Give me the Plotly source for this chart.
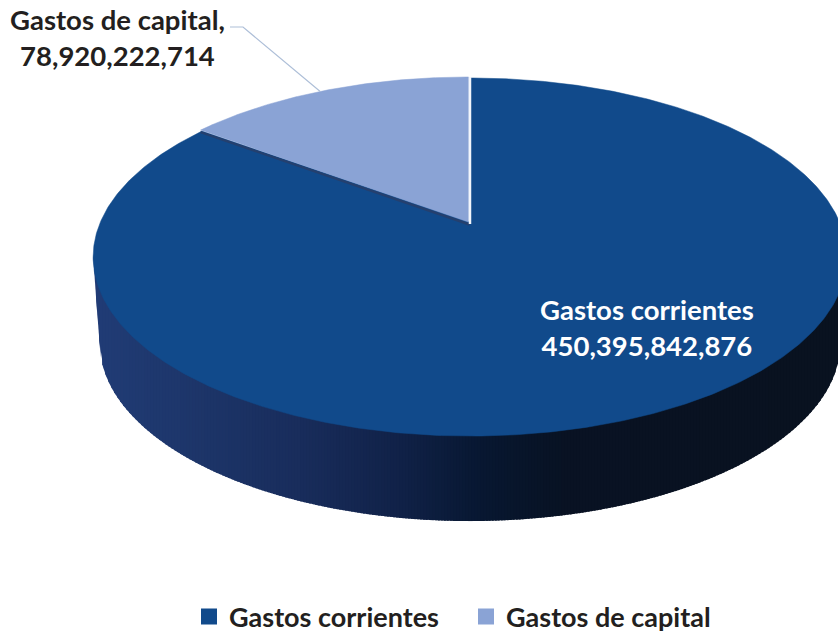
import numpy as np
import plotly.graph_objects as go

categories = ["Gastos corrientes", "Gastos de capital"]
values = [450395842876, 78920222714]
colors = ["#114A8B", "#8AA3D5"]
wall_stops_x = [93, 180, 300, 400, 480, 560, 838]
wall_stops_rgb = [(33, 60, 118), (30, 55, 108), (25, 45, 92), (17, 34, 72), (8, 24, 50), (9, 19, 36), (10, 18, 32)]

W, H = 838, 633
FONT = "Lato"
TXT = "#231F20"

# projection of the tilted pie disc onto the page (pixel axes)
CX, APEX_Y, K, A, C = 470.0, 222.0, 370.0, -130.4, 0.19


def project(theta, r=1.0, k=K, dy=0.0, cx=CX):
    u, v = -r * np.sin(theta), r * np.cos(theta)
    d = 1 + C * v
    return cx + k * u / d, (A * v + APEX_Y) / d + dy


share = values[1] / sum(values)
split = 2 * np.pi * share

fig = go.Figure()

# side wall, shaded strip by strip
t = np.linspace(0, 2 * np.pi, 1441)
tx, ty = project(t)
bx, by = project(t, k=364.0, dy=86.0)
lo_top = ty > 256
lo_bot = by > 342
o1 = np.argsort(tx[lo_top])
o2 = np.argsort(bx[lo_bot])
top_xs, top_ys = tx[lo_top][o1], ty[lo_top][o1]
bot_xs, bot_ys = bx[lo_bot][o2], by[lo_bot][o2]
left_i, right_i = np.argmin(tx), np.argmax(tx)
bot_xs = np.r_[tx[left_i], bot_xs, tx[right_i]]
bot_ys = np.r_[ty[left_i], bot_ys, ty[right_i]]

edges = np.arange(tx.min(), 842, 3.0)
for x0, x1 in zip(edges[:-1], edges[1:]):
    xm = (x0 + x1) / 2
    rgb = [int(np.interp(xm, wall_stops_x, [s[i] for s in wall_stops_rgb])) for i in range(3)]
    col = f"rgb({rgb[0]},{rgb[1]},{rgb[2]})"
    x2 = x1 + 1.5  # overlap the next strip so no seam shows
    y0t, y1t = np.interp(x0, top_xs, top_ys) - 3, np.interp(x2, top_xs, top_ys) - 3
    fig.add_trace(go.Scatter(
        x=[x0, x2, x2, x0, x0],
        y=[y0t, y1t, np.interp(x2, bot_xs, bot_ys), np.interp(x0, bot_xs, bot_ys), y0t],
        mode="none", fill="toself", fillcolor=col,
        showlegend=False, hoverinfo="skip"))

# top faces, from the values
th_big = np.linspace(split, 2 * np.pi, 600)
xb, yb = project(th_big, dy=1.0)
ax, ay = project(0.0, r=0.0)
fig.add_trace(go.Scatter(
    x=np.r_[ax, xb, ax], y=np.r_[ay, yb, ay], mode="lines", fill="toself",
    fillcolor=colors[0], line=dict(color=colors[0], width=0.5),
    name=categories[0], showlegend=False, hovertemplate=f"{categories[0]}: {values[0]:,}<extra></extra>"))

th_small = np.linspace(0, split, 160)
xs_, ys_ = project(th_small)
sx = np.r_[ax - 1.5, xs_ - 1.5, ax - 1.5]
sy = np.r_[ay, ys_, ay]
fig.add_trace(go.Scatter(
    x=[sx[-2], sx[-1] + 1], y=[sy[-2] + 2, sy[-1] + 2.5], mode="lines",
    line=dict(color="#24406F", width=2.5), showlegend=False, hoverinfo="skip"))
fig.add_trace(go.Scatter(
    x=sx, y=sy, mode="lines", fill="toself", fillcolor=colors[1],
    line=dict(color=colors[1], width=0.5),
    name=categories[1], showlegend=False, hovertemplate=f"{categories[1]}: {values[1]:,}<extra></extra>"))
fig.add_trace(go.Scatter(
    x=[ax, ax], y=[project(0.0)[1], ay + 2], mode="lines",
    line=dict(color="#F2F5FB", width=2.5), showlegend=False, hoverinfo="skip"))

# leader line
mx, my = project(split * 0.52)
fig.add_trace(go.Scatter(
    x=[230, 243, mx - 1.5], y=[27, 27, my], mode="lines",
    line=dict(color="#AEBFD8", width=1.2), showlegend=False, hoverinfo="skip"))

# legend keys
for name, col in zip(categories, colors):
    fig.add_trace(go.Scatter(
        x=[None], y=[None], mode="markers", name=name,
        marker=dict(symbol="square", size=16, color=col), showlegend=True))

fig.add_annotation(x=117, y=37, xref="x", yref="y", showarrow=False, align="center",
                   text=f"<b>{categories[1]},<br>{values[1]:,}</b>",
                   font=dict(family=FONT, size=27.5, color=TXT), xanchor="center", yanchor="middle")
fig.add_annotation(x=647, y=327, xref="x", yref="y", showarrow=False, align="center",
                   text=f"<b>{categories[0]}<br>{values[0]:,}</b>",
                   font=dict(family=FONT, size=27.5, color="#FFFFFF"), xanchor="center", yanchor="middle")

fig.update_layout(
    width=W, height=H, margin=dict(l=0, r=0, t=0, b=0, autoexpand=False),
    paper_bgcolor="white", plot_bgcolor="white",
    xaxis=dict(range=[0, W], visible=False, fixedrange=True),
    yaxis=dict(range=[H, 0], visible=False, fixedrange=True),
    font=dict(family=FONT),
    legend=dict(
        orientation="h", x=189 / W, y=1 - 617 / H, xanchor="left", yanchor="middle",
        entrywidth=232, entrywidthmode="pixels", itemsizing="trace",
        font=dict(family=FONT, size=27, color=TXT, weight=700), bgcolor="rgba(0,0,0,0)"),
)
fig.write_html("out.html", post_script="document.body.style.margin='0';",
               config={"displayModeBar": False})
